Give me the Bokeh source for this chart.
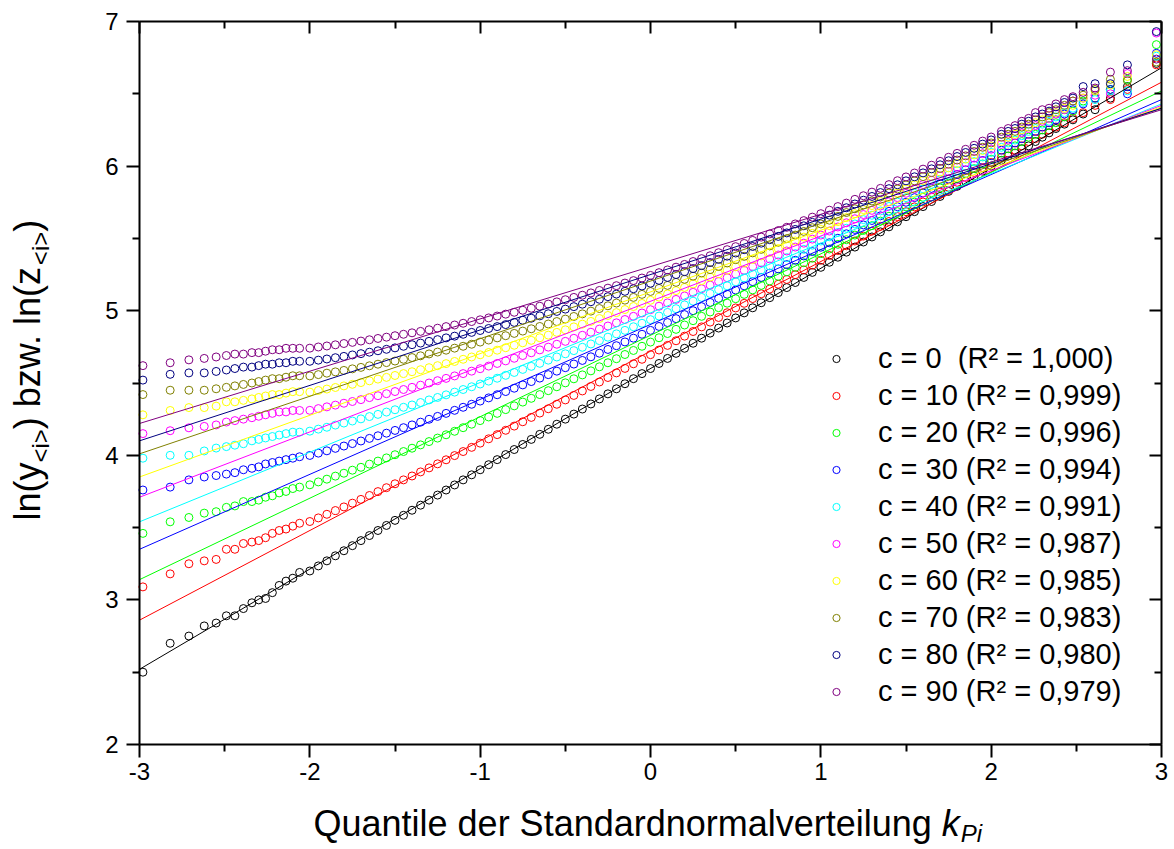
import math
from bokeh.plotting import figure
from bokeh.models import (ColumnDataSource, Range1d, LinearAxis, FixedTicker,
                          Legend, LegendItem, Label)
from bokeh.embed import file_html
from bokeh.resources import INLINE

# ---------------- data ----------------
C_VALUES = [0, 10, 20, 30, 40, 50, 60, 70, 80, 90]
LEGEND_LABELS = [
    "c = 0  (R² = 1,000)",
    "c = 10 (R² = 0,999)",
    "c = 20 (R² = 0,996)",
    "c = 30 (R² = 0,994)",
    "c = 40 (R² = 0,991)",
    "c = 50 (R² = 0,987)",
    "c = 60 (R² = 0,985)",
    "c = 70 (R² = 0,983)",
    "c = 80 (R² = 0,980)",
    "c = 90 (R² = 0,979)",
]
COLORS = ["#000000", "#FF0000", "#00FF00", "#0000FF", "#00FFFF",
          "#FF00FF", "#FFFF00", "#808000", "#000080", "#800080"]

X_TICKS = [-3, -2, -1, 0, 1, 2, 3]
X_TICK_LABELS = ["-3", "-2", "-1", "0", "1", "2", "3"]
X_MINOR = [-2.5, -1.5, -0.5, 0.5, 1.5, 2.5]
Y_TICKS = [2, 3, 4, 5, 6, 7]
Y_TICK_LABELS = ["2", "3", "4", "5", "6", "7"]
Y_MINOR = [2.5, 3.5, 4.5, 5.5, 6.5]

# quantiles k_Pi (shared by all series)
K_LEFT = [-2.98, -2.82, -2.71, -2.62, -2.55, -2.49, -2.44, -2.39, -2.34, -2.30,
          -2.26, -2.22, -2.18, -2.14, -2.10, -2.06]
K_MID = [-2.00, -1.95, -1.90, -1.85, -1.80, -1.75, -1.70, -1.65, -1.60, -1.55,
         -1.50, -1.45, -1.40, -1.35, -1.30, -1.25, -1.20, -1.15, -1.10, -1.05,
         -1.00, -0.95, -0.90, -0.85, -0.80, -0.75, -0.70, -0.65, -0.60, -0.55,
         -0.50, -0.45, -0.40, -0.35, -0.30, -0.25, -0.20, -0.15, -0.10, -0.05,
         0.00, 0.05, 0.10, 0.15, 0.20, 0.25, 0.30, 0.35, 0.40, 0.45,
         0.50, 0.55, 0.60, 0.65, 0.70, 0.75, 0.80, 0.85, 0.90, 0.95,
         1.00, 1.05, 1.10, 1.15, 1.20, 1.25, 1.30, 1.35, 1.40, 1.45,
         1.50, 1.55, 1.60, 1.65, 1.70, 1.75, 1.80, 1.85, 1.90, 1.95,
         2.00]
K_RIGHT = [2.06, 2.10, 2.14, 2.18, 2.22, 2.26, 2.30, 2.34, 2.38, 2.43,
           2.48, 2.54, 2.61, 2.70, 2.80, 2.97]

Y_C0 = [2.50, 2.70, 2.75, 2.82, 2.84, 2.89, 2.89, 2.94, 2.98, 3.00, 3.01, 3.05, 3.10, 3.13, 3.15, 3.19,
        3.200, 3.235, 3.270, 3.305, 3.340, 3.375, 3.410, 3.445, 3.480, 3.515,
        3.550, 3.585, 3.620, 3.655, 3.690, 3.725, 3.760, 3.795, 3.830, 3.865,
        3.900, 3.935, 3.970, 4.005, 4.040, 4.075, 4.110, 4.145, 4.180, 4.215,
        4.250, 4.285, 4.320, 4.355, 4.390, 4.425, 4.460, 4.495, 4.530, 4.565,
        4.600, 4.635, 4.670, 4.705, 4.740, 4.775, 4.810, 4.845, 4.880, 4.915,
        4.950, 4.985, 5.020, 5.055, 5.090, 5.125, 5.160, 5.195, 5.230, 5.265,
        5.300, 5.335, 5.370, 5.405, 5.440, 5.475, 5.510, 5.545, 5.580, 5.615,
        5.650, 5.685, 5.720, 5.755, 5.790, 5.825, 5.860, 5.895, 5.930, 5.965,
        6.000,
        6.04, 6.07, 6.09, 6.12, 6.14, 6.17, 6.20, 6.23, 6.26, 6.29, 6.32, 6.36, 6.39, 6.47, 6.55, 6.71]
Y_C10 = [3.09, 3.18, 3.25, 3.27, 3.28, 3.35, 3.35, 3.39, 3.40, 3.41, 3.43, 3.46, 3.48, 3.49, 3.51, 3.53,
         3.542, 3.567, 3.592, 3.618, 3.643, 3.669, 3.695, 3.722, 3.749, 3.776,
         3.803, 3.830, 3.857, 3.885, 3.913, 3.941, 3.969, 3.998, 4.026, 4.055,
         4.084, 4.114, 4.143, 4.173, 4.202, 4.232, 4.262, 4.292, 4.322, 4.353,
         4.383, 4.414, 4.445, 4.476, 4.507, 4.538, 4.570, 4.601, 4.633, 4.664,
         4.696, 4.728, 4.760, 4.792, 4.824, 4.856, 4.888, 4.921, 4.953, 4.986,
         5.019, 5.051, 5.084, 5.117, 5.150, 5.183, 5.216, 5.249, 5.282, 5.315,
         5.349, 5.382, 5.416, 5.449, 5.482, 5.516, 5.550, 5.583, 5.617, 5.651,
         5.685, 5.718, 5.752, 5.786, 5.820, 5.854, 5.888, 5.922, 5.956, 5.990,
         6.025,
         6.06, 6.09, 6.11, 6.14, 6.17, 6.19, 6.22, 6.25, 6.27, 6.30, 6.33, 6.37, 6.42, 6.46, 6.53, 6.70]
Y_C20 = [3.46, 3.54, 3.57, 3.60, 3.61, 3.64, 3.65, 3.68, 3.68, 3.69, 3.71, 3.72, 3.74, 3.75, 3.77, 3.78,
         3.796, 3.816, 3.835, 3.856, 3.876, 3.897, 3.917, 3.939, 3.960, 3.982,
         4.004, 4.026, 4.049, 4.072, 4.095, 4.119, 4.142, 4.166, 4.191, 4.215,
         4.240, 4.265, 4.290, 4.316, 4.342, 4.368, 4.394, 4.420, 4.447, 4.474,
         4.501, 4.529, 4.556, 4.584, 4.612, 4.640, 4.668, 4.697, 4.725, 4.754,
         4.783, 4.813, 4.842, 4.871, 4.901, 4.931, 4.961, 4.991, 5.021, 5.052,
         5.083, 5.113, 5.144, 5.175, 5.206, 5.238, 5.269, 5.300, 5.332, 5.363,
         5.395, 5.427, 5.459, 5.491, 5.523, 5.555, 5.588, 5.620, 5.653, 5.685,
         5.718, 5.751, 5.784, 5.816, 5.849, 5.882, 5.915, 5.949, 5.982, 6.015,
         6.048,
         6.09, 6.12, 6.14, 6.17, 6.20, 6.22, 6.25, 6.28, 6.30, 6.34, 6.38, 6.45, 6.47, 6.53, 6.60, 6.84]
Y_C30 = [3.76, 3.78, 3.83, 3.85, 3.86, 3.87, 3.88, 3.90, 3.91, 3.92, 3.94, 3.95, 3.96, 3.97, 3.98, 3.99,
         3.999, 4.015, 4.031, 4.048, 4.064, 4.081, 4.099, 4.117, 4.135, 4.153,
         4.172, 4.191, 4.210, 4.229, 4.249, 4.269, 4.290, 4.311, 4.332, 4.353,
         4.375, 4.397, 4.419, 4.441, 4.464, 4.487, 4.510, 4.534, 4.558, 4.582,
         4.606, 4.631, 4.656, 4.681, 4.706, 4.732, 4.758, 4.784, 4.810, 4.837,
         4.864, 4.891, 4.918, 4.945, 4.973, 5.000, 5.028, 5.057, 5.085, 5.114,
         5.143, 5.172, 5.201, 5.230, 5.260, 5.289, 5.319, 5.349, 5.379, 5.409,
         5.439, 5.470, 5.501, 5.532, 5.562, 5.593, 5.624, 5.656, 5.687, 5.719,
         5.750, 5.782, 5.814, 5.846, 5.878, 5.910, 5.942, 5.974, 6.007, 6.039,
         6.072,
         6.11, 6.14, 6.16, 6.19, 6.22, 6.24, 6.27, 6.30, 6.32, 6.36, 6.39, 6.43, 6.47, 6.53, 6.50, 6.78]
Y_C40 = [3.98, 4.00, 4.00, 4.03, 4.05, 4.06, 4.07, 4.08, 4.10, 4.11, 4.12, 4.13, 4.14, 4.15, 4.16, 4.16,
         4.167, 4.181, 4.194, 4.209, 4.223, 4.237, 4.252, 4.268, 4.283, 4.299,
         4.315, 4.332, 4.348, 4.365, 4.383, 4.400, 4.418, 4.437, 4.455, 4.474,
         4.493, 4.513, 4.533, 4.553, 4.573, 4.594, 4.615, 4.636, 4.658, 4.680,
         4.702, 4.724, 4.747, 4.770, 4.793, 4.817, 4.840, 4.864, 4.889, 4.913,
         4.938, 4.963, 4.988, 5.014, 5.040, 5.066, 5.092, 5.119, 5.145, 5.172,
         5.200, 5.227, 5.254, 5.282, 5.310, 5.339, 5.367, 5.395, 5.424, 5.453,
         5.482, 5.511, 5.541, 5.570, 5.600, 5.630, 5.660, 5.690, 5.721, 5.751,
         5.782, 5.812, 5.843, 5.874, 5.905, 5.937, 5.968, 6.000, 6.031, 6.063,
         6.095,
         6.13, 6.16, 6.18, 6.21, 6.24, 6.26, 6.29, 6.31, 6.34, 6.37, 6.40, 6.44, 6.46, 6.52, 6.52, 6.76]
Y_C50 = [4.15, 4.17, 4.19, 4.20, 4.21, 4.23, 4.24, 4.25, 4.26, 4.27, 4.28, 4.29, 4.30, 4.30, 4.31, 4.31,
         4.311, 4.323, 4.335, 4.347, 4.360, 4.372, 4.385, 4.399, 4.412, 4.426,
         4.441, 4.455, 4.470, 4.485, 4.500, 4.516, 4.532, 4.549, 4.565, 4.582,
         4.599, 4.617, 4.635, 4.653, 4.671, 4.690, 4.709, 4.729, 4.748, 4.768,
         4.788, 4.809, 4.830, 4.851, 4.873, 4.894, 4.916, 4.939, 4.961, 4.984,
         5.007, 5.031, 5.054, 5.078, 5.102, 5.127, 5.152, 5.177, 5.202, 5.228,
         5.253, 5.279, 5.305, 5.332, 5.358, 5.385, 5.413, 5.440, 5.467, 5.495,
         5.523, 5.551, 5.579, 5.608, 5.636, 5.665, 5.694, 5.724, 5.753, 5.782,
         5.812, 5.842, 5.872, 5.902, 5.932, 5.963, 5.993, 6.024, 6.055, 6.086,
         6.117,
         6.15, 6.18, 6.21, 6.23, 6.26, 6.28, 6.31, 6.33, 6.36, 6.39, 6.45, 6.47, 6.49, 6.50, 6.64, 6.92]
Y_C60 = [4.28, 4.31, 4.33, 4.33, 4.34, 4.37, 4.37, 4.38, 4.39, 4.40, 4.41, 4.42, 4.42, 4.43, 4.44, 4.44,
         4.437, 4.448, 4.458, 4.469, 4.480, 4.491, 4.503, 4.515, 4.527, 4.539,
         4.552, 4.565, 4.578, 4.592, 4.606, 4.620, 4.634, 4.649, 4.664, 4.680,
         4.695, 4.711, 4.727, 4.744, 4.761, 4.778, 4.795, 4.813, 4.831, 4.850,
         4.868, 4.888, 4.907, 4.926, 4.946, 4.967, 4.987, 5.008, 5.029, 5.050,
         5.072, 5.094, 5.116, 5.139, 5.161, 5.185, 5.208, 5.232, 5.255, 5.280,
         5.304, 5.329, 5.354, 5.379, 5.404, 5.430, 5.456, 5.482, 5.509, 5.535,
         5.562, 5.589, 5.616, 5.644, 5.671, 5.699, 5.727, 5.756, 5.784, 5.813,
         5.842, 5.871, 5.900, 5.929, 5.959, 5.988, 6.018, 6.048, 6.078, 6.108,
         6.139,
         6.17, 6.20, 6.22, 6.25, 6.27, 6.30, 6.32, 6.35, 6.37, 6.40, 6.42, 6.47, 6.52, 6.56, 6.62, 6.77]
Y_C70 = [4.42, 4.45, 4.45, 4.45, 4.46, 4.47, 4.48, 4.49, 4.50, 4.51, 4.52, 4.53, 4.53, 4.54, 4.55, 4.55,
         4.549, 4.558, 4.568, 4.577, 4.587, 4.598, 4.608, 4.619, 4.630, 4.641,
         4.652, 4.664, 4.676, 4.688, 4.701, 4.714, 4.727, 4.741, 4.754, 4.768,
         4.783, 4.797, 4.812, 4.827, 4.843, 4.859, 4.875, 4.891, 4.908, 4.925,
         4.942, 4.960, 4.978, 4.997, 5.015, 5.034, 5.053, 5.073, 5.092, 5.113,
         5.133, 5.154, 5.175, 5.196, 5.217, 5.239, 5.261, 5.284, 5.306, 5.330,
         5.353, 5.376, 5.400, 5.424, 5.448, 5.473, 5.498, 5.523, 5.548, 5.574,
         5.600, 5.626, 5.652, 5.679, 5.705, 5.732, 5.759, 5.787, 5.814, 5.842,
         5.870, 5.898, 5.927, 5.955, 5.984, 6.013, 6.042, 6.071, 6.101, 6.130,
         6.160,
         6.20, 6.22, 6.24, 6.27, 6.29, 6.32, 6.34, 6.37, 6.39, 6.42, 6.45, 6.49, 6.53, 6.60, 6.59, 6.72]
Y_C80 = [4.52, 4.56, 4.57, 4.57, 4.58, 4.59, 4.60, 4.61, 4.61, 4.62, 4.63, 4.63, 4.64, 4.64, 4.65, 4.65,
         4.650, 4.658, 4.666, 4.675, 4.684, 4.694, 4.703, 4.713, 4.723, 4.733,
         4.743, 4.754, 4.765, 4.776, 4.788, 4.800, 4.812, 4.824, 4.837, 4.850,
         4.863, 4.877, 4.890, 4.904, 4.919, 4.934, 4.948, 4.964, 4.979, 4.995,
         5.011, 5.028, 5.045, 5.062, 5.079, 5.097, 5.115, 5.134, 5.152, 5.171,
         5.190, 5.210, 5.230, 5.250, 5.270, 5.291, 5.312, 5.333, 5.355, 5.377,
         5.399, 5.422, 5.444, 5.467, 5.491, 5.514, 5.538, 5.562, 5.587, 5.611,
         5.636, 5.661, 5.687, 5.712, 5.738, 5.764, 5.790, 5.817, 5.844, 5.871,
         5.898, 5.926, 5.953, 5.981, 6.009, 6.037, 6.066, 6.094, 6.123, 6.152,
         6.181,
         6.22, 6.24, 6.26, 6.29, 6.31, 6.34, 6.36, 6.38, 6.41, 6.44, 6.47, 6.55, 6.57, 6.57, 6.70, 6.93]
Y_C90 = [4.62, 4.64, 4.66, 4.67, 4.68, 4.69, 4.70, 4.70, 4.71, 4.71, 4.72, 4.73, 4.73, 4.74, 4.74, 4.74,
         4.741, 4.749, 4.756, 4.764, 4.773, 4.781, 4.790, 4.799, 4.808, 4.817,
         4.827, 4.837, 4.847, 4.857, 4.868, 4.879, 4.890, 4.901, 4.913, 4.925,
         4.937, 4.950, 4.963, 4.976, 4.989, 5.003, 5.017, 5.031, 5.046, 5.061,
         5.076, 5.092, 5.107, 5.123, 5.140, 5.156, 5.173, 5.191, 5.208, 5.226,
         5.244, 5.263, 5.282, 5.301, 5.320, 5.340, 5.360, 5.380, 5.401, 5.422,
         5.443, 5.465, 5.486, 5.509, 5.531, 5.554, 5.577, 5.600, 5.623, 5.647,
         5.671, 5.695, 5.720, 5.744, 5.770, 5.795, 5.820, 5.846, 5.872, 5.899,
         5.925, 5.952, 5.979, 6.006, 6.033, 6.061, 6.088, 6.116, 6.144, 6.173,
         6.201,
         6.24, 6.26, 6.28, 6.31, 6.33, 6.37, 6.39, 6.40, 6.43, 6.46, 6.48, 6.51, 6.54, 6.65, 6.66, 6.74]

# fitted regression lines: values at k = -3 and k = +3
FIT_K = [-3.0, 3.0]
FIT_AT_LEFT = [2.52, 2.86, 3.14, 3.35, 3.54, 3.71, 3.85, 4.01, 4.10, 4.22]
FIT_AT_RIGHT = [6.68, 6.58, 6.52, 6.46, 6.43, 6.42, 6.41, 6.40, 6.40, 6.39]

Y_SERIES = [Y_C0, Y_C10, Y_C20, Y_C30, Y_C40, Y_C50, Y_C60, Y_C70, Y_C80, Y_C90]
K_ALL = K_LEFT + K_MID + K_RIGHT
for ys in Y_SERIES:
    assert len(ys) == len(K_ALL), (len(ys), len(K_ALL))

# ---------------- figure ----------------
FONT = "Liberation Sans"
W, H = 1174, 849
FL, FR, FT, FB = 139, 1161, 21, 744   # edges of the data box in canvas px
XMIN, XMAX, YMIN, YMAX = -3.0, 3.0, 2.0, 7.0
SX = (FR - FL) / (XMAX - XMIN)
SY = (FB - FT) / (YMAX - YMIN)


def dx(px):
    return XMIN + (px - FL) / SX


def dy(py):
    return YMAX - (py - FT) / SY


# the plotting frame fills the whole canvas; axes sit at fixed data locations
p = figure(width=W, height=H,
           x_range=Range1d(dx(0), dx(W)), y_range=Range1d(dy(H), dy(0)),
           x_axis_type=None, y_axis_type=None,
           output_backend="svg", toolbar_location=None,
           min_border_left=0, min_border_right=0,
           min_border_top=0, min_border_bottom=0)
if p.title is not None:
    p.title.visible = False
p.outline_line_color = None
p.background_fill_color = "white"
p.border_fill_color = "white"


def make_axis(ticks, labels, minor, loc, bounds, inside, show_labels):
    ax = LinearAxis(ticker=FixedTicker(ticks=ticks, minor_ticks=minor),
                    fixed_location=loc, bounds=bounds)
    ax.axis_line_color = "black"
    ax.axis_line_width = 2
    ax.major_tick_line_color = "black"
    ax.minor_tick_line_color = "black"
    ax.major_tick_line_width = 2
    ax.minor_tick_line_width = 2
    if inside:
        ax.major_tick_in, ax.major_tick_out = 12, 0
        ax.minor_tick_in, ax.minor_tick_out = 7, 0
    else:
        ax.major_tick_in, ax.major_tick_out = 0, 13
        ax.minor_tick_in, ax.minor_tick_out = 0, 7
    if show_labels:
        ax.major_label_overrides = {t: s for t, s in zip(ticks, labels)}
        ax.major_label_text_font = FONT
        ax.major_label_text_font_size = "24px"
        ax.major_label_text_color = "black"
    else:
        ax.major_label_overrides = {t: "" for t in ticks}
        ax.major_label_text_font_size = "1px"
    return ax


ax_b = make_axis(X_TICKS, X_TICK_LABELS, X_MINOR, YMIN, (XMIN, XMAX), False, True)
ax_b.major_label_standoff = 5
ax_l = make_axis(Y_TICKS, Y_TICK_LABELS, Y_MINOR, XMIN, (YMIN, YMAX), False, True)
ax_l.major_label_standoff = 8
ax_t = make_axis(X_TICKS, X_TICK_LABELS, X_MINOR, YMAX, (XMIN, XMAX), True, False)
ax_r = make_axis(Y_TICKS, Y_TICK_LABELS, Y_MINOR, XMAX, (YMIN, YMAX), True, False)
p.add_layout(ax_b, "below")
p.add_layout(ax_l, "left")
p.add_layout(ax_t, "above")
p.add_layout(ax_r, "right")

scatters = []
for i, ys in enumerate(Y_SERIES):
    src = ColumnDataSource(dict(k=K_ALL, y=ys))
    r = p.scatter("k", "y", source=src, marker="circle", size=8,
                  fill_color=None, line_color=COLORS[i], line_width=1)
    scatters.append(r)

for i in range(len(C_VALUES)):
    p.line(FIT_K, [FIT_AT_LEFT[i], FIT_AT_RIGHT[i]],
           line_color=COLORS[i], line_width=1)

legend = Legend(items=[LegendItem(label=LEGEND_LABELS[i], renderers=[scatters[i]])
                       for i in range(len(C_VALUES))],
                location=(827, H - 710), orientation="vertical",
                padding=0, margin=0, spacing=0,
                glyph_width=18, glyph_height=37, label_height=37,
                label_standoff=33,
                label_text_font=FONT, label_text_font_size="29px",
                label_text_color="black",
                background_fill_alpha=0, border_line_alpha=0)
p.add_layout(legend)

# ---------------- axis titles (built from text pieces) ----------------
TITLE_PX = 36
SUB_PX = 24
MID = 0.35          # distance from the text middle to its baseline, in em


def piece(x_px, y_px, text, size, italic=False, angle=0.0):
    p.add_layout(Label(x=dx(x_px), y=dy(y_px), text=text, angle=angle,
                       text_font=FONT, text_font_size=f"{size}px",
                       text_font_style="italic" if italic else "normal",
                       text_color="black",
                       text_align="left", text_baseline="middle"))


# x title: baseline at y = 837
x0, base = 313, 836
main_w = 17.452 * TITLE_PX
piece(x0, base - MID * TITLE_PX, "Quantile der Standardnormalverteilung ", TITLE_PX)
piece(x0 + main_w, base - MID * TITLE_PX, "k", TITLE_PX, italic=True)
piece(x0 + main_w + 0.5 * TITLE_PX + 1, base + 5 - MID * SUB_PX, "Pi", SUB_PX, italic=True)

# y title (rotated, reading upward); baseline at x = 40
bx, y_start = 40, 520
pieces = [("ln(y", TITLE_PX, 1.611 * TITLE_PX, 0),
          ("<i>", SUB_PX, 1.39 * SUB_PX, 8),
          (") bzw. ln(z", TITLE_PX, 4.556 * TITLE_PX, 0),
          ("<i>", SUB_PX, 1.39 * SUB_PX, 8),
          (")", TITLE_PX, 0.333 * TITLE_PX, 0)]
cur = y_start
for txt, fs, w, off in pieces:
    piece(bx + off - MID * fs, cur, txt, fs, angle=math.pi / 2)
    cur -= w

open("out.html", "w").write(file_html(p, INLINE))
